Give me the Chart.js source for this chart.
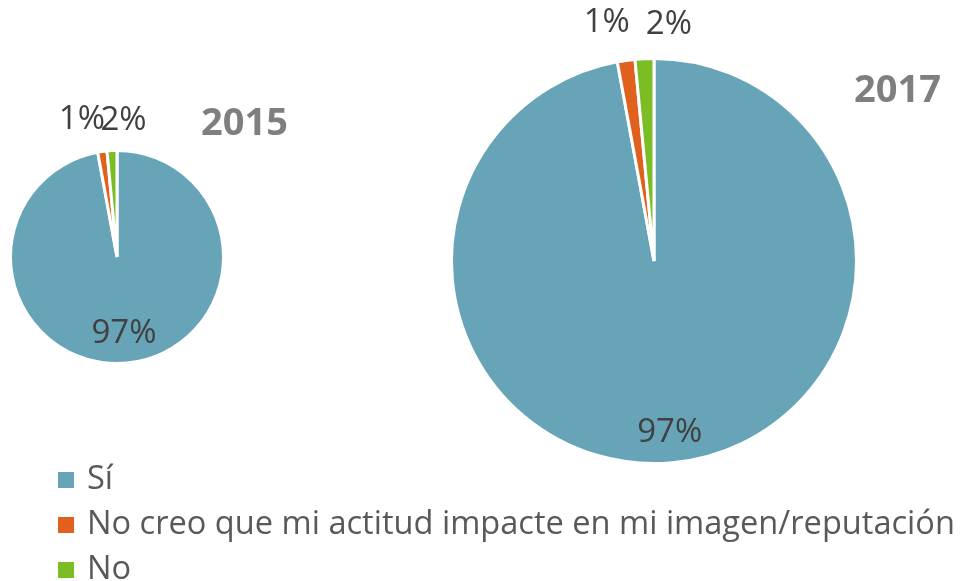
<!DOCTYPE html>
<html>
<head>
<meta charset="utf-8">
<script src="https://cdn.jsdelivr.net/npm/chart.js@4"></script>
<style>
    html, body { margin: 0; padding: 0; background: #fff; }
    #stage { position: relative; width: 963px; height: 581px; overflow: hidden; font-family: 'Open Sans', sans-serif; }
    #stage canvas { position: absolute; left: 0; top: 0; }
    .year { position: absolute; font-weight: bold; color: #7f7f7f; font-size: 38px; line-height: 1; }
    .legend { position: absolute; left: 58px; top: 454px; color: #595959; font-size: 32.6px; line-height: 45px; white-space: nowrap; }
    .legend span.sw { display: inline-block; width: 16px; height: 16px; margin-right: 13px; vertical-align: 1px; }
</style>
</head>
<body>
<div id="stage">
    <canvas id="pie2015" width="963" height="581"></canvas>
    <canvas id="pie2017" width="963" height="581"></canvas>
    <div class="year" style="left:201px; top:101px;">2015</div>
    <div class="year" style="left:854px; top:68px;">2017</div>
    <div class="legend" id="legend"></div>
</div>
<script>
const CATEGORIES = ['Sí', 'No creo que mi actitud impacte en mi imagen/reputación', 'No'];
const COLORS     = ['#68a4b8', '#e0611d', '#7cbd26'];

const VALUES_2015 = [97.1, 1.4, 1.5];
const VALUES_2017 = [97.1, 1.4, 1.5];

// label placement: radial factor per slice, plus sideways nudge for the tiny ones
const LABEL_RADIUS = {
    pie2015: [0.72, 1.30, 1.28],
    pie2017: [0.85, 1.19, 1.17],
};
const LABEL_NUDGE = {
    pie2015: [0, -16, 13],
    pie2017: [0, -14, 26],
};

const pctLabels = {
    id: 'pctLabels',
    afterDatasetsDraw(chart) {
        const ctx  = chart.ctx;
        const meta = chart.getDatasetMeta(0);
        const data = chart.data.datasets[0].data;
        const key  = chart.canvas.id;
        ctx.save();
        ctx.font = '33px "Open Sans", sans-serif';
        ctx.fillStyle = '#404040';
        ctx.textAlign = 'center';
        ctx.textBaseline = 'middle';
        meta.data.forEach((arc, i) => {
            const p   = arc.getProps(['x', 'y', 'startAngle', 'endAngle', 'outerRadius'], true);
            const mid = (p.startAngle + p.endAngle) / 2;
            const r   = p.outerRadius * LABEL_RADIUS[key][i];
            const x   = p.x + Math.cos(mid) * r + LABEL_NUDGE[key][i];
            const y   = p.y + Math.sin(mid) * r;
            ctx.fillText(Math.round(data[i]) + '%', x, y);
        });
        ctx.restore();
    },
};

function makePie(id, values, padding) {
    return new Chart(document.getElementById(id), {
        type: 'pie',
        data: {
            labels: CATEGORIES,
            datasets: [{
                data:            values,
                backgroundColor: COLORS,
                borderColor:     '#ffffff',
                borderWidth:     3,
            }],
        },
        options: {
            responsive: false,
            animation:  false,
            layout:     { padding },
            plugins:    { legend: { display: false }, tooltip: { enabled: false } },
        },
        plugins: [pctLabels],
    });
}

makePie('pie2015', VALUES_2015, { left: 9, right: 738, top: 149, bottom: 216 });
makePie('pie2017', VALUES_2017, { left: 450, right: 105, top: 57, bottom: 116 });

const legend = document.getElementById('legend');
legend.innerHTML = CATEGORIES.map((c, i) =>
    `<div><span class="sw" style="background:${COLORS[i]}"></span>${c}</div>`
).join('');
</script>
</body>
</html>
